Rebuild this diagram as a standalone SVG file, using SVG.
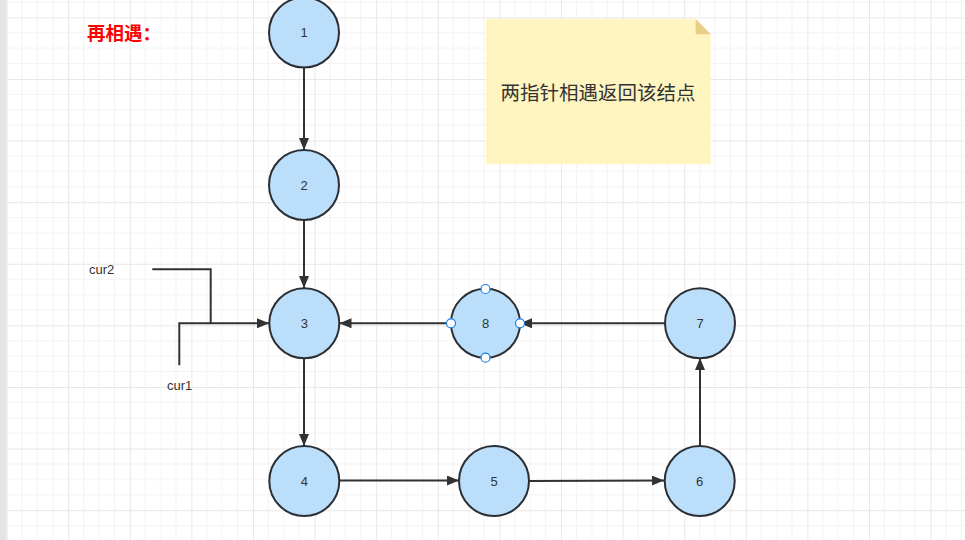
<svg xmlns="http://www.w3.org/2000/svg" width="965" height="540" viewBox="0 0 965 540">
<defs>
<pattern id="grid" x="6.6" y="17.4" width="61.6" height="61.6" patternUnits="userSpaceOnUse">
<path d="M15.4 0V61.6M30.8 0V61.6M46.2 0V61.6M0 15.4H61.6M0 30.8H61.6M0 46.2H61.6" stroke="#f3f3f3" stroke-width="1" fill="none"/>
<path d="M0.5 0V61.6M0 0.5H61.6" stroke="#e7e7e7" stroke-width="1" fill="none"/>
</pattern>
<marker id="arr" viewBox="0 0 12 10" refX="12" refY="5" markerWidth="12" markerHeight="10" markerUnits="userSpaceOnUse" orient="auto">
<path d="M0 0L12 5L0 10z" fill="#323232"/>
</marker>
<style>
.node circle{fill:#bbdefb;stroke:#2b2f33;stroke-width:2}
.node text{font-family:"Liberation Sans",Arial,sans-serif;font-size:13px;fill:#333;text-anchor:middle}
.edge{fill:none;stroke:#323232;stroke-width:2}
.lbl{font-family:"Liberation Sans",Arial,sans-serif;font-size:13px;fill:#333}
.node circle.handle{fill:#fff;stroke:#1e7ee8;stroke-width:1.2}
</style>
</defs>
<rect width="965" height="540" fill="#fff"/>
<rect width="965" height="540" fill="url(#grid)"/>
<rect x="0" y="0" width="6" height="540" fill="#e4e4e4"/>
<rect x="6" y="0" width="1.5" height="540" fill="#eeeeee"/>

<g id="title">
<text x="87" y="40" font-family="'Noto Sans CJK SC',sans-serif" font-size="18.5" font-weight="bold" fill="#ff0000">再相遇：</text>
</g>

<g id="note">
<path d="M486 19H695.7L710.7 34.3V164.3H486Z" fill="#fff5c0"/>
<path d="M695.7 19L710.7 34.3H695.7Z" fill="#e8cf88"/>
<text x="598" y="99.5" font-family="'Noto Sans CJK SC',sans-serif" font-size="19.5" fill="#333" text-anchor="middle">两指针相遇返回该结点</text>
</g>

<g id="connectors">
<line class="edge" x1="304" y1="67" x2="304" y2="150" marker-end="url(#arr)"/>
<line class="edge" x1="304" y1="220" x2="304" y2="288" marker-end="url(#arr)"/>
<line class="edge" x1="304" y1="358" x2="304" y2="446" marker-end="url(#arr)"/>
<line class="edge" x1="339.5" y1="480.5" x2="459" y2="480.5" marker-end="url(#arr)"/>
<line class="edge" x1="529" y1="481" x2="664" y2="480.5" marker-end="url(#arr)"/>
<line class="edge" x1="700" y1="446" x2="700" y2="358" marker-end="url(#arr)"/>
<line class="edge" x1="665" y1="323.3" x2="520" y2="323.3" marker-end="url(#arr)"/>
<line class="edge" x1="451" y1="323.3" x2="339.5" y2="323.3" marker-end="url(#arr)"/>
<polyline class="edge" points="152.3,269.3 210.7,269.3 210.7,323.3"/>
<polyline class="edge" points="179.3,365.3 179.3,323.3 269,323.3" marker-end="url(#arr)"/>
</g>

<g id="cur2"><text class="lbl" x="89" y="273.5">cur2</text></g>
<g id="cur1"><text class="lbl" x="167" y="389.5">cur1</text></g>

<g id="n1" class="node"><circle cx="304" cy="32.5" r="35"/><text x="304" y="37">1</text></g>
<g id="n2" class="node"><circle cx="304" cy="185" r="35"/><text x="304" y="189.5">2</text></g>
<g id="n3" class="node"><circle cx="304.3" cy="323.3" r="35"/><text x="304.3" y="328">3</text></g>
<g id="n8" class="node"><circle cx="485.5" cy="323.3" r="34.5"/><text x="485.5" y="328">8</text>
<circle class="handle" cx="485.5" cy="289" r="4.5"/>
<circle class="handle" cx="485.5" cy="357.7" r="4.5"/>
<circle class="handle" cx="451" cy="323.3" r="4.5"/>
<circle class="handle" cx="520" cy="323.3" r="4.5"/>
</g>
<g id="n7" class="node"><circle cx="700" cy="323.3" r="35"/><text x="700" y="328">7</text></g>
<g id="n4" class="node"><circle cx="304.3" cy="481" r="35"/><text x="304.3" y="485.5">4</text></g>
<g id="n5" class="node"><circle cx="494" cy="481" r="35"/><text x="494" y="485.5">5</text></g>
<g id="n6" class="node"><circle cx="699.7" cy="481" r="35"/><text x="699.7" y="485.5">6</text></g>
</svg>
